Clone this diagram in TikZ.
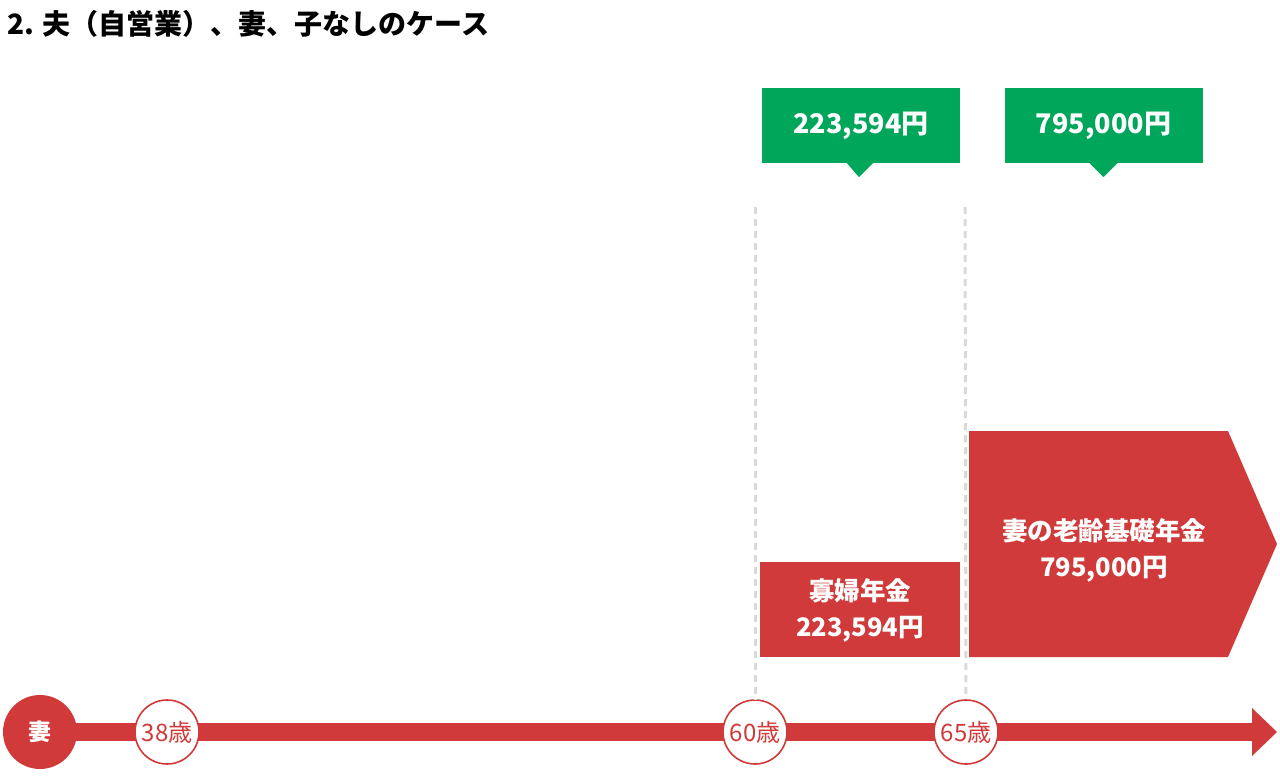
\documentclass[tikz,border=0pt]{standalone}
\usepackage{fontspec}
\setmainfont{Noto Sans CJK JP}
\definecolor{myred}{RGB}{208,58,58}
\definecolor{mygreen}{RGB}{0,166,90}
\definecolor{dashgray}{RGB}{217,217,217}
\tikzset{
  age/.style={circle, draw=myred, line width=1.6pt, fill=white, minimum size=64pt, inner sep=0pt, text=myred, font=\fontsize{24}{26}\selectfont},
  greenbox/.style={fill=mygreen, text=white, minimum width=198pt, minimum height=75pt, inner sep=0pt, font=\bfseries\fontsize{27}{30}\selectfont},
  redlabel/.style={text=white, align=center, inner sep=0pt, font=\bfseries\fontsize{25.5}{36}\selectfont},
  guide/.style={draw=dashgray, line width=3pt, dash pattern=on 7pt off 5pt},
  pointer/.style={fill=mygreen}
}
\begin{document}
\begin{tikzpicture}[x=1pt,y=-1pt]
\useasboundingbox (0,0) rectangle (1280,777);
% title
\node[anchor=west, inner sep=0pt, font=\bfseries\fontsize{28}{30}\selectfont] (title) at (7,24) {2. 夫（自営業）、妻、子なしのケース};
% guides
\coordinate (g60) at (755,207);
\coordinate (g65) at (965,207);
% timeline
\coordinate (shaft) at (1252,732);
\coordinate (end) at (1277,732);
\node[circle, fill=myred, minimum size=74pt, inner sep=0pt] (wife) at (40,732) {};
\draw[myred, line width=18pt] (wife.center) -- (shaft);
\fill[myred] ([yshift=24pt]shaft) -- (end) -- ([yshift=-24pt]shaft) -- cycle;
\node[text=white, font=\bfseries\fontsize{23}{25}\selectfont] at (wife.center) {妻};
\node[age] (a38) at (167,732) {38歳};
\node[age] (a60) at (755,732) {60歳};
\node[age] (a65) at (966,732) {65歳};
\draw[guide] (g60) -- (a60.north);
\draw[guide] (g65) -- (a65.north);
% green callouts
\node[greenbox] (c1) at (861,125.5) {223,594円};
\fill[pointer] ([xshift=-14pt]c1.south) -- ([xshift=-2pt,yshift=-14pt]c1.south) -- ([xshift=12pt]c1.south) -- cycle;
\node[greenbox] (c2) at (1103.5,125.5) {795,000円};
\fill[pointer] ([xshift=-14pt]c2.south) -- ([yshift=-14pt]c2.south) -- ([xshift=14pt]c2.south) -- cycle;
% red boxes
\node[fill=myred, minimum width=200pt, minimum height=95pt, inner sep=0pt] (widow) at (860,609.5) {};
\node[redlabel] at ([yshift=-1pt]widow.center) {寡婦年金\\223,594円};
\fill[myred] (969,431) -- (1228,431) -- (1277,544) -- (1228,657) -- (969,657) -- cycle;
\node[redlabel] (basic) at (1104,550) {妻の老齢基礎年金\\795,000円};
\end{tikzpicture}
\end{document}
